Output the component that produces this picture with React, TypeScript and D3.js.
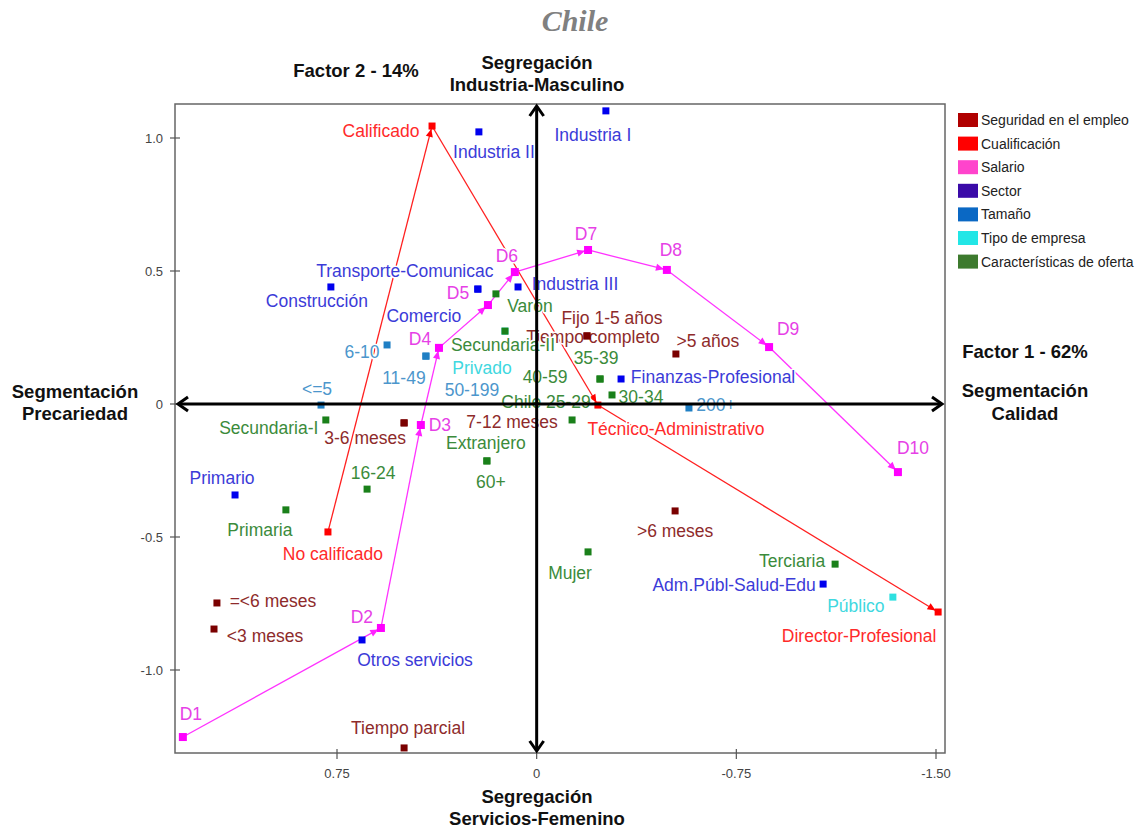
import * as d3 from "d3";

// ---------------- data ----------------
const legendNames = [
  "Seguridad en el empleo",
  "Cualificación",
  "Salario",
  "Sector",
  "Tamaño",
  "Tipo de empresa",
  "Características de oferta",
];
const legendColors = ["#b00000", "#ff0000", "#ff44cc", "#3a0aa8", "#0a68c4", "#22e6e6", "#3d7a2e"];

type P = { name: string; x: number; y: number };

const seguridad: P[] = [
  { name: "Fijo 1-5 años", x: -0.189, y: 0.256 },
  { name: "Tiempo completo", x: -0.189, y: 0.256 },
  { name: ">5 años", x: -0.523, y: 0.188 },
  { name: "3-6 meses", x: 0.498, y: -0.071 },
  { name: "7-12 meses", x: 0.498, y: -0.071 },
  { name: ">6 meses", x: -0.52, y: -0.402 },
  { name: "=<6 meses", x: 1.201, y: -0.748 },
  { name: "<3 meses", x: 1.212, y: -0.846 },
  { name: "Tiempo parcial", x: 0.498, y: -1.293 },
];

// ordered path: No calificado -> Calificado -> Técnico -> Director
const cualificacion: P[] = [
  { name: "No calificado", x: 0.784, y: -0.481 },
  { name: "Calificado", x: 0.393, y: 1.045 },
  { name: "Técnico-Administrativo", x: -0.23, y: -0.004 },
  { name: "Director-Profesional", x: -1.508, y: -0.782 },
];

const salario: P[] = [
  { name: "D1", x: 1.329, y: -1.252 },
  { name: "D2", x: 0.585, y: -0.842 },
  { name: "D3", x: 0.435, y: -0.079 },
  { name: "D4", x: 0.367, y: 0.211 },
  { name: "D5", x: 0.183, y: 0.372 },
  { name: "D6", x: 0.082, y: 0.496 },
  { name: "D7", x: -0.193, y: 0.579 },
  { name: "D8", x: -0.489, y: 0.504 },
  { name: "D9", x: -0.873, y: 0.214 },
  { name: "D10", x: -1.357, y: -0.256 },
];

const sector: P[] = [
  { name: "Industria I", x: -0.26, y: 1.102 },
  { name: "Industria II", x: 0.217, y: 1.023 },
  { name: "Industria III", x: 0.07, y: 0.44 },
  { name: "Transporte-Comunicac", x: 0.221, y: 0.432 },
  { name: "Comercio", x: 0.221, y: 0.432 },
  { name: "Construcción", x: 0.773, y: 0.44 },
  { name: "Finanzas-Profesional", x: -0.317, y: 0.094 },
  { name: "Primario", x: 1.133, y: -0.342 },
  { name: "Otros servicios", x: 0.656, y: -0.887 },
  { name: "Adm.Públ-Salud-Edu", x: -1.076, y: -0.677 },
];

const tamano: P[] = [
  { name: "<=5", x: 0.81, y: -0.004 },
  { name: "6-10", x: 0.562, y: 0.222 },
  { name: "11-49", x: 0.416, y: 0.18 },
  { name: "50-199", x: 0.416, y: 0.18 },
  { name: "200+", x: -0.572, y: -0.015 },
];

const tipoEmpresa: P[] = [
  { name: "Privado", x: 0.119, y: 0.274 },
  { name: "Público", x: -1.338, y: -0.726 },
];

const oferta: P[] = [
  { name: "Varón", x: 0.153, y: 0.414 },
  { name: "Secundaria-II", x: 0.119, y: 0.274 },
  { name: "Secundaria-I", x: 0.792, y: -0.06 },
  { name: "40-59", x: -0.238, y: 0.094 },
  { name: "35-39", x: -0.238, y: 0.094 },
  { name: "30-34", x: -0.283, y: 0.034 },
  { name: "Chile 25-29", x: -0.133, y: -0.06 },
  { name: "Extranjero", x: 0.187, y: -0.214 },
  { name: "60+", x: 0.187, y: -0.214 },
  { name: "16-24", x: 0.637, y: -0.32 },
  { name: "Primaria", x: 0.942, y: -0.398 },
  { name: "Mujer", x: -0.193, y: -0.556 },
  { name: "Terciaria", x: -1.121, y: -0.602 },
];

const xTicks = [0.75, 0, -0.75, -1.5];
const xTickLabels = ["0.75", "0", "-0.75", "-1.50"];
const yTicks = [1, 0.5, 0, -0.5, -1];
const yTickLabels = ["1.0", "0.5", "0", "-0.5", "-1.0"];

// label placement relative to marker (px), text centred
const labelPos: Record<string, [number, number]> = {
  "Fijo 1-5 años": [25, -18],
  "Tiempo completo": [6, 1],
  ">5 años": [32, -13],
  "3-6 meses": [-39, 15],
  "7-12 meses": [108, -1],
  ">6 meses": [0, 20],
  "=<6 meses": [56, -2],
  "<3 meses": [51, 7],
  "Tiempo parcial": [4, -20],
  "No calificado": [5, 22],
  "Calificado": [-51, 5],
  "Técnico-Administrativo": [78, 24],
  "Director-Profesional": [-79, 24],
  D1: [8, -23],
  D2: [-19, -11],
  D3: [19, 0],
  D4: [-19, -9],
  D5: [-30, -12],
  D6: [-8, -16],
  D7: [-2, -16],
  D8: [4, -20],
  D9: [19, -18],
  D10: [15, -24],
  "Industria I": [-13, 24],
  "Industria II": [15, 20],
  "Industria III": [57, -3],
  "Transporte-Comunicac": [-73, -18],
  Comercio: [-54, 27],
  "Construcción": [-14, 14],
  "Finanzas-Profesional": [92, -2],
  Primario: [-13, -17],
  "Otros servicios": [53, 20],
  "Adm.Públ-Salud-Edu": [-89, 1],
  "<=5": [-4, -16],
  "6-10": [-25, 7],
  "11-49": [-22, 22],
  "50-199": [46, 34],
  "200+": [27, -3],
  Privado: [-23, 37],
  "Público": [-37, 9],
  "Varón": [34, 12],
  "Secundaria-II": [-2, 14],
  "Secundaria-I": [-57, 8],
  "40-59": [-55, -2],
  "35-39": [-4, -21],
  "30-34": [29, 2],
  "Chile 25-29": [-26, -18],
  Extranjero: [-1, -18],
  "60+": [4, 21],
  "16-24": [6, -16],
  Primaria: [-26, 20],
  Mujer: [-18, 21],
  Terciaria: [-43, -3],
};

const series = [
  { pts: seguridad, marker: "#7a0000", text: "#8e2b2b", size: 7 },
  { pts: cualificacion, marker: "#ff0000", text: "#ff2a2a", size: 7 },
  { pts: salario, marker: "#ff00ff", text: "#e640e6", size: 8 },
  { pts: sector, marker: "#0000ee", text: "#3b3bd8", size: 7 },
  { pts: tamano, marker: "#1f7fc4", text: "#4c96cc", size: 7 },
  { pts: tipoEmpresa, marker: "#2ee0e0", text: "#3fd8e0", size: 7 },
  { pts: oferta, marker: "#1a801a", text: "#3b8b3b", size: 7 },
];

const W = 1143;
const H = 829;
const FONT = "'Liberation Sans', Arial, sans-serif";

export default function App() {
  const left = 175, right = 945, top = 104, bottom = 753;
  const x = d3.scaleLinear().domain([0.75, -1.5]).range([337, 936]);
  const y = d3.scaleLinear().domain([1, -1]).range([138, 670]);
  const x0 = x(0);
  const y0 = y(0);

  const segs = (pts: P[]) =>
    d3.pairs(pts).map(([a, b]) => {
      const ax = x(a.x), ay = y(a.y), bx = x(b.x), by = y(b.y);
      const len = Math.hypot(bx - ax, by - ay);
      const k = (len - 3) / len;
      return { x1: ax, y1: ay, x2: ax + (bx - ax) * k, y2: ay + (by - ay) * k };
    });

  const chevron = (px: number, py: number, dir: "l" | "r" | "u" | "d") => {
    const s = 10;
    if (dir === "l") return `M${px + s},${py - s * 0.7}L${px},${py}L${px + s},${py + s * 0.7}`;
    if (dir === "r") return `M${px - s},${py - s * 0.7}L${px},${py}L${px - s},${py + s * 0.7}`;
    if (dir === "u") return `M${px - s * 0.7},${py + s}L${px},${py}L${px + s * 0.7},${py + s}`;
    return `M${px - s * 0.7},${py - s}L${px},${py}L${px + s * 0.7},${py - s}`;
  };

  return (
    <svg width={W} height={H} style={{ position: "absolute", left: 0, top: 0, background: "#fff" }} fontFamily={FONT}>
      <defs>
        <marker id="arrRed" viewBox="0 0 10 10" refX="10" refY="5" markerWidth="9" markerHeight="8" markerUnits="userSpaceOnUse" orient="auto">
          <path d="M0,0.5L10,5L0,9.5z" fill="#ff0000" />
        </marker>
        <marker id="arrPink" viewBox="0 0 10 10" refX="10" refY="5" markerWidth="9" markerHeight="8" markerUnits="userSpaceOnUse" orient="auto">
          <path d="M0,0.5L10,5L0,9.5z" fill="#ff22ff" />
        </marker>
      </defs>

      {/* title */}
      <text x={575} y={31} textAnchor="middle" fontFamily="'Liberation Serif', 'Times New Roman', serif" fontWeight="bold" fontStyle="italic" fontSize={30} fill="#808080">
        Chile
      </text>

      {/* frame */}
      <rect x={left} y={top} width={right - left} height={bottom - top} fill="none" stroke="#666" strokeWidth={1.5} />

      {/* ticks */}
      {yTicks.map((t, i) => (
        <g key={"yt" + i}>
          <line x1={left - 5} x2={left + 5} y1={y(t)} y2={y(t)} stroke="#555" strokeWidth={1.2} />
          <text x={163} y={y(t)} dy="0.35em" textAnchor="end" fontSize={13} fill="#444">
            {yTickLabels[i]}
          </text>
        </g>
      ))}
      {xTicks.map((t, i) => (
        <g key={"xt" + i}>
          <line x1={x(t)} x2={x(t)} y1={bottom - 4} y2={bottom + 6} stroke="#555" strokeWidth={1.2} />
          <text x={x(t)} y={773} dy="0.35em" textAnchor="middle" fontSize={13} fill="#444">
            {xTickLabels[i]}
          </text>
        </g>
      ))}

      {/* connecting lines */}
      {segs(cualificacion).map((s, i) => (
        <line key={"c" + i} {...s} stroke="#ff2020" strokeWidth={1.3} markerEnd="url(#arrRed)" />
      ))}
      {segs(salario).map((s, i) => (
        <line key={"s" + i} {...s} stroke="#ff33ff" strokeWidth={1.3} markerEnd="url(#arrPink)" />
      ))}

      {/* labels with white halo */}
      {series.map((se, si) =>
        se.pts.map((p) => {
          const o = labelPos[p.name] || [0, -14];
          return (
            <text
              key={"l" + si + p.name}
              x={x(p.x) + o[0]}
              y={y(p.y) + o[1]}
              dy="0.35em"
              textAnchor="middle"
              fontSize={17.5}
              fill={se.text}
              stroke="#fff"
              strokeWidth={3}
              paintOrder="stroke"
              strokeLinejoin="round"
            >
              {p.name}
            </text>
          );
        })
      )}

      {/* markers */}
      {series.map((se, si) =>
        se.pts.map((p) => (
          <rect
            key={"m" + si + p.name}
            x={x(p.x) - se.size / 2}
            y={y(p.y) - se.size / 2}
            width={se.size}
            height={se.size}
            fill={se.marker}
          />
        ))
      )}

      {/* main axes with arrows */}
      <g stroke="#000" strokeWidth={3} fill="none">
        <line x1={left + 3} x2={right - 3} y1={y0} y2={y0} />
        <line x1={x0} x2={x0} y1={top + 2} y2={bottom - 2} />
        <path d={chevron(left + 3, y0, "l")} />
        <path d={chevron(right - 3, y0, "r")} />
        <path d={chevron(x0, top + 2, "u")} />
        <path d={chevron(x0, bottom - 2, "d")} />
      </g>

      {/* axis titles */}
      <g fontWeight="bold" fontSize={18.5} fill="#111" textAnchor="middle">
        <text x={356} y={77}>Factor 2 - 14%</text>
        <text x={537} y={69}>Segregación</text>
        <text x={537} y={91}>Industria-Masculino</text>
        <text x={537} y={803}>Segregación</text>
        <text x={537} y={825}>Servicios-Femenino</text>
        <text x={75} y={398}>Segmentación</text>
        <text x={75} y={420}>Precariedad</text>
        <text x={1025} y={358}>Factor 1 - 62%</text>
        <text x={1025} y={397}>Segmentación</text>
        <text x={1025} y={420}>Calidad</text>
      </g>

      {/* legend */}
      {legendNames.map((n, i) => {
        const cy = 120 + i * 23.6;
        return (
          <g key={"lg" + i}>
            <rect x={958} y={cy - 7} width={20} height={14} fill={legendColors[i]} />
            <text x={981} y={cy} dy="0.35em" fontSize={14} fill="#222">
              {n}
            </text>
          </g>
        );
      })}
    </svg>
  );
}
